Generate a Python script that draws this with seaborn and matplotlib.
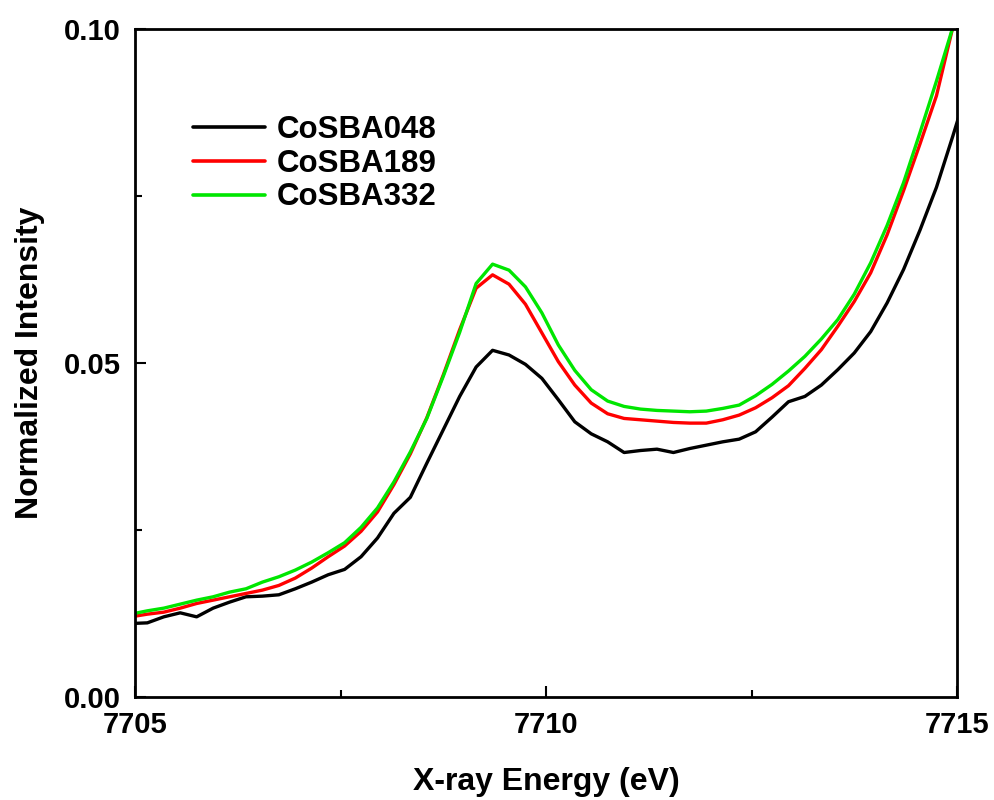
import numpy as np
import pandas as pd
import matplotlib
matplotlib.use("Agg")
import matplotlib.pyplot as plt
import seaborn as sns
from matplotlib.ticker import MultipleLocator

# ---- data ----
energy = [round(7704.95 + 0.2 * k, 2) for k in range(52)]

cosba048 = [0.0110, 0.0111, 0.0120, 0.0126, 0.0120, 0.0133, 0.0142, 0.0150, 0.0151, 0.0153,
            0.0162, 0.0172, 0.0183, 0.0191, 0.0210, 0.0238, 0.0275, 0.0299, 0.0350, 0.0400,
            0.0450, 0.0494, 0.0519, 0.0512, 0.0498, 0.0477, 0.0445, 0.0412, 0.0394, 0.0382,
            0.0366, 0.0369, 0.0371, 0.0366, 0.0372, 0.0377, 0.0382, 0.0386, 0.0397, 0.0419,
            0.0442, 0.0450, 0.0467, 0.0490, 0.0515, 0.0547, 0.0590, 0.0640, 0.0699, 0.0763,
            0.0840, 0.0920]

cosba189 = [0.0120, 0.0124, 0.0127, 0.0133, 0.0140, 0.0145, 0.0150, 0.0155, 0.0160, 0.0167,
            0.0178, 0.0193, 0.0210, 0.0226, 0.0248, 0.0277, 0.0318, 0.0364, 0.0418, 0.0482,
            0.0550, 0.0612, 0.0632, 0.0618, 0.0588, 0.0545, 0.0502, 0.0467, 0.0440, 0.0424,
            0.0417, 0.0415, 0.0413, 0.0411, 0.0410, 0.0410, 0.0415, 0.0422, 0.0433, 0.0448,
            0.0466, 0.0492, 0.0520, 0.0555, 0.0592, 0.0635, 0.0692, 0.0758, 0.0828, 0.0900,
            0.1003, 0.1090]

cosba332 = [0.0124, 0.0129, 0.0133, 0.0139, 0.0145, 0.0150, 0.0157, 0.0162, 0.0172, 0.0180,
            0.0190, 0.0202, 0.0216, 0.0231, 0.0254, 0.0283, 0.0322, 0.0367, 0.0417, 0.0480,
            0.0546, 0.0619, 0.0648, 0.0639, 0.0614, 0.0575, 0.0527, 0.0489, 0.0460, 0.0443,
            0.0435, 0.0431, 0.0429, 0.0428, 0.0427, 0.0428, 0.0432, 0.0437, 0.0451, 0.0468,
            0.0488, 0.0510, 0.0536, 0.0565, 0.0603, 0.0650, 0.0706, 0.0770, 0.0845, 0.0922,
            0.1003, 0.1090]

sample_names = ["CoSBA048", "CoSBA189", "CoSBA332"]
colors = ["#000000", "#ff0000", "#00e600"]

x_ticks = [7705, 7710, 7715]
y_ticks = [0.00, 0.05, 0.10]
x_tick_labels = ["7705", "7710", "7715"]
y_tick_labels = ["0.00", "0.05", "0.10"]

df = pd.DataFrame({
    "Energy": energy * 3,
    "Intensity": cosba048 + cosba189 + cosba332,
    "Sample": [sample_names[0]] * len(energy) + [sample_names[1]] * len(energy)
              + [sample_names[2]] * len(energy),
})

# ---- styling ----
sns.set_style("ticks")
plt.rcParams["font.family"] = ["Liberation Sans", "DejaVu Sans"]
plt.rcParams["font.weight"] = "bold"
plt.rcParams["text.color"] = "black"
plt.rcParams["axes.labelcolor"] = "black"
plt.rcParams["xtick.color"] = "black"
plt.rcParams["ytick.color"] = "black"

fig = plt.figure(figsize=(9.94, 8.0), dpi=100)
ax = fig.add_axes([135 / 994, 103 / 800, 822 / 994, 668 / 800])

sns.lineplot(data=df, x="Energy", y="Intensity", hue="Sample",
             palette=dict(zip(sample_names, colors)), linewidth=2.4,
             ax=ax, legend=True)

ax.set_xlim(7705, 7715)
ax.set_ylim(0.0, 0.10)

ax.set_xticks(x_ticks)
ax.set_xticklabels(x_tick_labels)
ax.set_yticks(y_ticks)
ax.set_yticklabels(y_tick_labels)
ax.xaxis.set_minor_locator(MultipleLocator(2.5))
ax.yaxis.set_minor_locator(MultipleLocator(0.025))

ax.tick_params(axis="both", which="major", direction="in", length=8, width=1.5,
               labelsize=21, pad=10, top=False, right=False, colors="black")
ax.tick_params(axis="both", which="minor", direction="in", length=5, width=1.5,
               top=False, right=False, colors="black")
for lbl in ax.get_xticklabels() + ax.get_yticklabels():
    lbl.set_fontweight("bold")
    lbl.set_color("black")

for side in ["left", "right", "top", "bottom"]:
    ax.spines[side].set_visible(True)
    ax.spines[side].set_linewidth(2.0)
    ax.spines[side].set_color("black")

ax.set_xlabel("X-ray Energy (eV)", fontsize=23, fontweight="bold", labelpad=20,
              color="black")
ax.set_ylabel("Normalized Intensity", fontsize=23, fontweight="bold", labelpad=14,
              color="black")

handles, labels = ax.get_legend_handles_labels()
for h in handles:
    h.set_linewidth(2.6)
leg = ax.legend(handles, labels, loc="upper left", bbox_to_anchor=(0.055, 0.89),
                frameon=False, fontsize=22.5, handlelength=2.3, handletextpad=0.4,
                labelspacing=0.12, borderaxespad=0.0)
for t in leg.get_texts():
    t.set_fontweight("bold")
    t.set_color("black")

fig.savefig("out.png", dpi=100, facecolor="white")
